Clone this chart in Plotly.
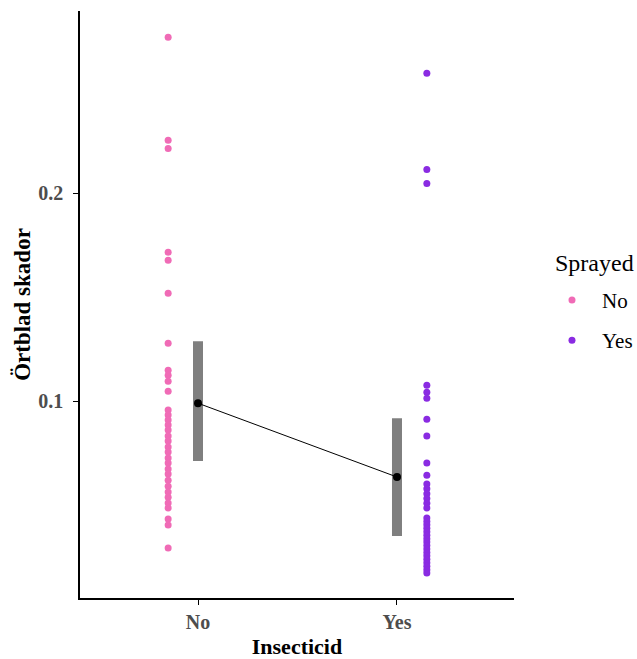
import plotly.graph_objects as go

categories = ["No", "Yes"]
legend_labels = ["No", "Yes"]

damage_no = [0.2751, 0.2255, 0.2216, 0.1716, 0.1678, 0.1519, 0.1279, 0.1149, 0.1125,
             0.1096, 0.1048, 0.0957, 0.0933, 0.0909, 0.0885, 0.0861, 0.0832, 0.0808,
             0.0779, 0.0755, 0.0726, 0.0702, 0.0673, 0.0649, 0.0620, 0.0591, 0.0563,
             0.0538, 0.0510, 0.0486, 0.0433, 0.0404, 0.0293]
damage_yes = [0.2578, 0.2114, 0.2047, 0.1077, 0.1043, 0.1014, 0.0913, 0.0832, 0.0702,
              0.0644, 0.0601, 0.0578, 0.0555, 0.0532, 0.0509, 0.0486, 0.0438, 0.0421,
              0.0405, 0.0388, 0.0372, 0.0355, 0.0338, 0.0322, 0.0305, 0.0289, 0.0272,
              0.0256, 0.0239, 0.0222, 0.0206, 0.0189, 0.0173]

mean_vals = [0.0990, 0.0635]
ci_low = [0.0712, 0.0351]
ci_high = [0.1288, 0.0918]

tick_vals_y = [0.1, 0.2]
tick_text_y = ["0.1", "0.2"]

colors = ["#f06bb6", "#8a2be2"]
serif = "Liberation Serif, Times New Roman, serif"
offset = 0.15

fig = go.Figure()
pos = [i + 1 for i in range(len(categories))]

for i, (vals, lab) in enumerate(zip([damage_no, damage_yes], legend_labels)):
    xpos = pos[i] + (-offset if i == 0 else offset)
    fig.add_trace(go.Scatter(
        x=[xpos] * len(vals), y=vals, mode="markers", name=lab,
        legendgroup=lab,
        marker=dict(color=colors[i], size=7, line=dict(width=0)),
    ))

fig.add_trace(go.Scatter(
    x=pos, y=mean_vals, mode="markers", showlegend=False,
    marker=dict(color="rgba(0,0,0,0)", size=1),
    error_y=dict(type="data", symmetric=False,
                 array=[h - m for h, m in zip(ci_high, mean_vals)],
                 arrayminus=[m - l for m, l in zip(mean_vals, ci_low)],
                 color="#7f7f7f", thickness=10, width=0),
))
fig.add_trace(go.Scatter(
    x=pos, y=mean_vals, mode="lines+markers", showlegend=False,
    line=dict(color="black", width=1),
    marker=dict(color="black", size=8),
))

fig.update_layout(
    width=637, height=659,
    margin=dict(l=80, r=123, t=11, b=61, autoexpand=False),
    paper_bgcolor="white", plot_bgcolor="white",
    font=dict(family=serif),
    legend=dict(
        font=dict(size=21, color="black", family=serif),
        x=1.0645, xanchor="left", y=0.542, yanchor="top",
        tracegroupgap=10, traceorder="grouped",
        itemwidth=50,
    ),
    annotations=[dict(
        text="Sprayed", xref="paper", yref="paper", x=1.0899, y=0.5707,
        xanchor="left", yanchor="middle", showarrow=False,
        font=dict(size=24, color="black", family=serif),
    )],
)
fig.update_xaxes(
    range=[0.407, 2.588], tickvals=pos, ticktext=categories, automargin=False,
    showline=True, linecolor="black", linewidth=1.5, showgrid=False, zeroline=False,
    ticks="outside", ticklen=5, tickcolor="black",
    tickfont=dict(size=20, color="#4d4d4d", family=serif, weight="bold"),
    title=dict(text="<b>Insecticid</b>", font=dict(size=22, color="black", family=serif), standoff=9),
)
fig.update_yaxes(
    range=[0.00529, 0.2877], tickvals=tick_vals_y, ticktext=tick_text_y, automargin=False,
    showline=True, linecolor="black", linewidth=1.5, showgrid=False, zeroline=False,
    ticks="outside", ticklen=5, tickcolor="black", ticklabelstandoff=6,
    tickfont=dict(size=20, color="#4d4d4d", family=serif, weight="bold"),
    title=dict(text="<b>Örtblad skador</b>", font=dict(size=23, color="black", family=serif), standoff=1),
)

fig.write_html(
    "out.html",
    config={"displayModeBar": False},
    post_script="document.body.style.margin='0';document.body.style.overflow='hidden';",
)
